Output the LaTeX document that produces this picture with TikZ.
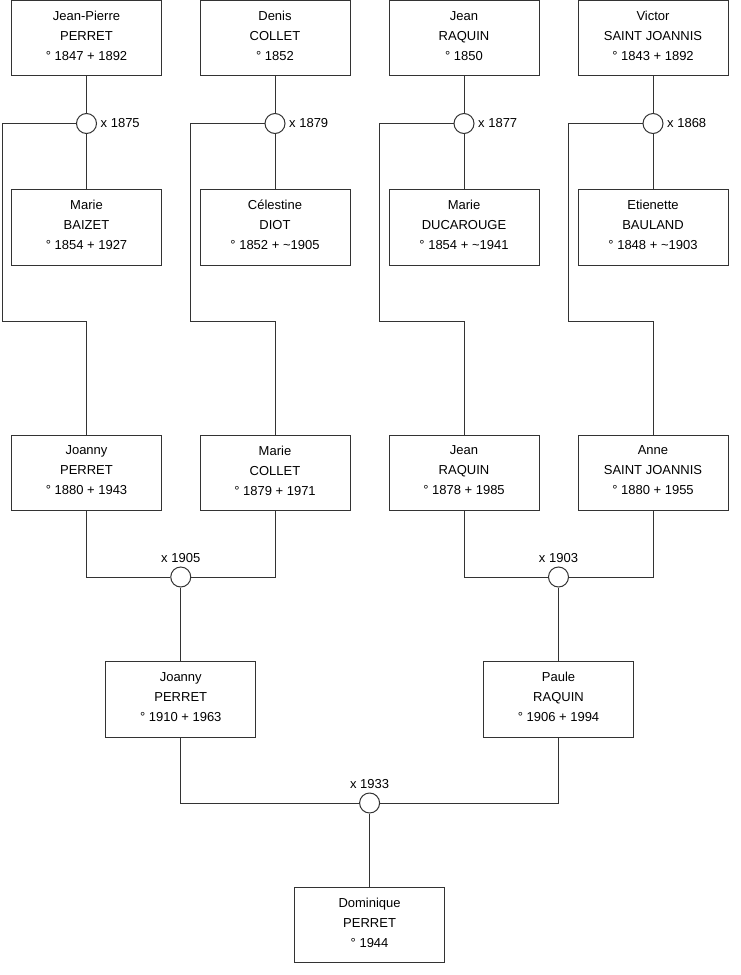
\documentclass[tikz,border=0pt]{standalone}
\usepackage{fontspec}
\setmainfont{Liberation Sans}
\definecolor{linec}{RGB}{51,51,51}
\newcommand{\lastl}{\rule[-5pt]{0pt}{5pt}}
\begin{document}
\begin{tikzpicture}[x=1pt,y=1pt,
  person/.style={draw=linec, line width=1pt, minimum width=150pt, minimum height=75.5pt, inner sep=0pt, align=center, font=\fontsize{13}{20}\selectfont, fill=white},
  wed/.style={circle, draw=linec, line width=1pt, minimum size=20pt, inner sep=0pt, fill=white},
  wlab/.style={inner sep=0pt, font=\fontsize{13}{16}\selectfont},
  conn/.style={draw=linec, line width=1pt}]
\useasboundingbox[fill=white] (0,0) rectangle (740,-975);
% generation 1
\node[person] (jp) at (86.5,-38.2) {Jean-Pierre\\PERRET\\° 1847 + 1892\lastl};
\node[person] (dc) at (275,-38.2) {Denis\\COLLET\\° 1852\lastl};
\node[person] (jr) at (464,-38.2) {Jean\\RAQUIN\\° 1850\lastl};
\node[person] (vs) at (653,-38.2) {Victor\\SAINT JOANNIS\\° 1843 + 1892\lastl};
\node[person] (mb) at (86.5,-227.3) {Marie\\BAIZET\\° 1854 + 1927\lastl};
\node[person] (cd) at (275,-227.3) {Célestine\\DIOT\\° 1852 + \textasciitilde1905\lastl};
\node[person] (md) at (464,-227.3) {Marie\\DUCAROUGE\\° 1854 + \textasciitilde1941\lastl};
\node[person] (eb) at (653,-227.3) {Etienette\\BAULAND\\° 1848 + \textasciitilde1903\lastl};
\node[wed] (m1) at (86.5,-123.5) {};
\node[wed] (m2) at (275,-123.5) {};
\node[wed] (m3) at (464,-123.5) {};
\node[wed] (m4) at (653,-123.5) {};
\node[wlab, anchor=west] (l1) at ([xshift=3.5pt]m1.east) {x 1875};
\node[wlab, anchor=west] (l2) at ([xshift=3.5pt]m2.east) {x 1879};
\node[wlab, anchor=west] (l3) at ([xshift=3.5pt]m3.east) {x 1877};
\node[wlab, anchor=west] (l4) at ([xshift=3.5pt]m4.east) {x 1868};
% generation 2
\node[person] (jo) at (86.5,-472.8) {Joanny\\PERRET\\° 1880 + 1943\lastl};
\node[person] (mc) at (275,-472.8) {Marie\\COLLET\\° 1879 + 1971\lastl};
\node[person] (jn) at (464,-472.8) {Jean\\RAQUIN\\° 1878 + 1985\lastl};
\node[person] (as) at (653,-472.8) {Anne\\SAINT JOANNIS\\° 1880 + 1955\lastl};
\node[wed] (m5) at (180.75,-577) {};
\node[wed] (m6) at (558.5,-577) {};
\node[wlab, anchor=base] (l5) at ([yshift=4pt]m5.north) {x 1905};
\node[wlab, anchor=base] (l6) at ([yshift=4pt]m6.north) {x 1903};
% generation 3
\node[person] (jy) at (180.75,-699.4) {Joanny\\PERRET\\° 1910 + 1963\lastl};
\node[person] (pr) at (558.5,-699.4) {Paule\\RAQUIN\\° 1906 + 1994\lastl};
\node[wed] (m7) at (369.6,-803) {};
\node[wlab, anchor=base] (l7) at ([yshift=4pt]m7.north) {x 1933};
\node[person] (dp) at (369.6,-925) {Dominique\\PERRET\\° 1944\lastl};
% elbow coordinates
\coordinate (e1a) at (2.5,-123.5);  \coordinate (e1b) at (2.5,-321.7);
\coordinate (e2a) at (190.5,-123.5); \coordinate (e2b) at (190.5,-321.7);
\coordinate (e3a) at (379.5,-123.5); \coordinate (e3b) at (379.5,-321.7);
\coordinate (e4a) at (568.5,-123.5); \coordinate (e4b) at (568.5,-321.7);
% connectors
\draw[conn] (jp) -- (m1); \draw[conn] (m1) -- (mb);
\draw[conn] (dc) -- (m2); \draw[conn] (m2) -- (cd);
\draw[conn] (jr) -- (m3); \draw[conn] (m3) -- (md);
\draw[conn] (vs) -- (m4); \draw[conn] (m4) -- (eb);
\draw[conn] (m1.west) -- (e1a) -- (e1b) -| (jo.north);
\draw[conn] (m2.west) -- (e2a) -- (e2b) -| (mc.north);
\draw[conn] (m3.west) -- (e3a) -- (e3b) -| (jn.north);
\draw[conn] (m4.west) -- (e4a) -- (e4b) -| (as.north);
\draw[conn] (jo.south) |- (m5.west);
\draw[conn] (mc.south) |- (m5.east);
\draw[conn] (jn.south) |- (m6.west);
\draw[conn] (as.south) |- (m6.east);
\draw[conn] (m5) -- (jy);
\draw[conn] (m6) -- (pr);
\draw[conn] (jy.south) |- (m7.west);
\draw[conn] (pr.south) |- (m7.east);
\draw[conn] (m7) -- (dp);
\end{tikzpicture}
\end{document}
